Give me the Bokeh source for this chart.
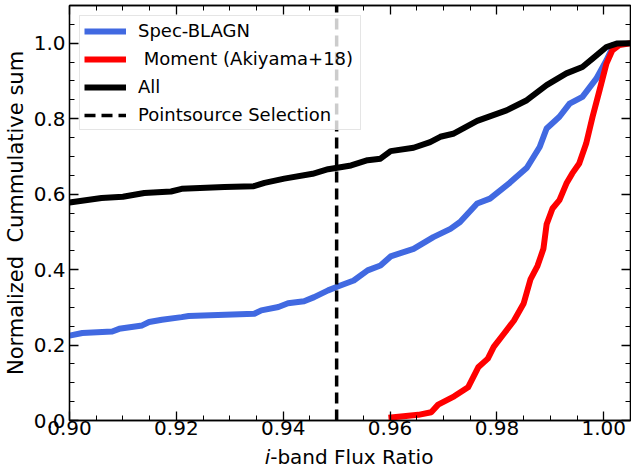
import numpy as np
from bokeh.plotting import figure
from bokeh.layouts import column
from bokeh.models import Range1d, FixedTicker, LinearAxis, Legend, LegendItem, Div
from bokeh.embed import file_html
from bokeh.resources import INLINE

# ---------------- data ----------------
blue_x = [0.900, 0.9024, 0.908, 0.9093, 0.9136, 0.9149, 0.9173, 0.921, 0.9223, 0.9346,
          0.9359, 0.9391, 0.9409, 0.9439, 0.9458, 0.9484, 0.9502, 0.9532, 0.9558, 0.9582,
          0.9601, 0.9644, 0.9681, 0.9713, 0.9731, 0.9763, 0.9787, 0.9824, 0.9856, 0.988,
          0.9893, 0.9917, 0.9936, 0.996, 0.9986, 1.0005, 1.002]
blue_y = [0.225, 0.232, 0.236, 0.243, 0.252, 0.261, 0.267, 0.274, 0.277, 0.283,
          0.292, 0.301, 0.311, 0.316, 0.327, 0.345, 0.355, 0.371, 0.398, 0.411,
          0.435, 0.455, 0.486, 0.508, 0.526, 0.575, 0.588, 0.630, 0.670, 0.725,
          0.774, 0.805, 0.840, 0.858, 0.906, 0.955, 1.000]

red_x = [0.9597, 0.9653, 0.9677, 0.969, 0.972, 0.9746, 0.9765, 0.9783, 0.9794, 0.9813,
         0.9832, 0.985, 0.9863, 0.9876, 0.9887, 0.9893, 0.9904, 0.9917, 0.993, 0.9941,
         0.9954, 0.9967, 0.9979, 0.9992, 1.0005, 1.0016, 1.0029, 1.005]
red_y = [0.007, 0.015, 0.022, 0.042, 0.064, 0.088, 0.141, 0.164, 0.195, 0.230,
         0.265, 0.310, 0.375, 0.410, 0.455, 0.520, 0.562, 0.584, 0.628, 0.655,
         0.681, 0.734, 0.805, 0.875, 0.946, 0.981, 0.995, 1.000]

all_x = [0.900, 0.906, 0.910, 0.914, 0.919, 0.921, 0.929, 0.9345, 0.9365, 0.9402,
         0.9455, 0.9484, 0.9527, 0.9558, 0.9582, 0.9601, 0.9644, 0.9675, 0.9694, 0.9718,
         0.9763, 0.9818, 0.9856, 0.9893, 0.9930, 0.9960, 0.9979, 1.0005, 1.0024, 1.005]
all_y = [0.578, 0.590, 0.593, 0.603, 0.607, 0.614, 0.619, 0.621, 0.630, 0.641,
         0.654, 0.666, 0.676, 0.690, 0.694, 0.714, 0.723, 0.738, 0.752, 0.760,
         0.794, 0.822, 0.849, 0.889, 0.920, 0.937, 0.959, 0.990, 0.999, 1.000]

selection_x = 0.95

series_labels = ["Spec-BLAGN", " Moment (Akiyama+18)", "All", "Pointsource Selection"]

x_ticks = [0.90, 0.92, 0.94, 0.96, 0.98, 1.00]
x_tick_labels = ["0.90", "0.92", "0.94", "0.96", "0.98", "1.00"]
y_ticks = [0.0, 0.2, 0.4, 0.6, 0.8, 1.0]
y_tick_labels = ["0.0", "0.2", "0.4", "0.6", "0.8", "1.0"]

x_lo, x_hi = 0.90, 1.005
y_lo, y_hi = 0.0, 1.1

y_title = "Normalized\u00a0 Cummulative sum"
x_title_italic = "i"
x_title_rest = "-band Flux Ratio"

# ---------------- figure ----------------
FONT = "DejaVu Sans"
W = 631
LEFT = 67

p = figure(width=W, height=445, output_backend="svg", toolbar_location=None,
           x_range=Range1d(x_lo, x_hi), y_range=Range1d(y_lo, y_hi),
           min_border_left=LEFT, min_border_right=1, min_border_top=5, min_border_bottom=25,
           x_axis_type=None, y_axis_type=None)
p.xgrid.visible = False
p.ygrid.visible = False
p.background_fill_color = "white"
p.border_fill_color = "white"
p.outline_line_color = "black"
p.outline_line_width = 1.3

x_minor = list(np.round(np.arange(x_lo, x_hi + 1e-9, 0.005), 4))
y_minor = list(np.round(np.arange(y_lo, y_hi + 1e-9, 0.05), 3))
xticker = FixedTicker(ticks=x_ticks, minor_ticks=x_minor)
yticker = FixedTicker(ticks=y_ticks, minor_ticks=y_minor)


def style(ax, show_labels):
    ax.axis_line_color = "black"
    ax.axis_line_width = 1.3
    ax.major_tick_in = 9
    ax.major_tick_out = 0
    ax.minor_tick_in = 5
    ax.minor_tick_out = 0
    ax.major_tick_line_color = "black"
    ax.minor_tick_line_color = "black"
    ax.major_tick_line_width = 1.3
    ax.minor_tick_line_width = 1.0
    ax.major_label_text_font = FONT
    ax.major_label_text_color = "black"
    if show_labels:
        ax.major_label_text_font_size = "20px"
    else:
        ax.major_label_text_font_size = "0px"
        ax.major_label_text_alpha = 0
        ax.major_label_standoff = 0


bottom = LinearAxis(ticker=xticker,
                    major_label_overrides={t: s for t, s in zip(x_ticks, x_tick_labels)})
style(bottom, True)
bottom.major_label_standoff = 0
p.add_layout(bottom, "below")

left = LinearAxis(ticker=yticker,
                  major_label_overrides={t: s for t, s in zip(y_ticks, y_tick_labels)})
style(left, True)
left.major_label_standoff = 4
left.axis_label = y_title
left.axis_label_text_font = FONT
left.axis_label_text_font_size = "21px"
left.axis_label_text_font_style = "normal"
left.axis_label_text_color = "black"
left.axis_label_standoff = 3
p.add_layout(left, "left")

top = LinearAxis(ticker=xticker)
style(top, False)
p.add_layout(top, "above")

right = LinearAxis(ticker=yticker)
style(right, False)
p.add_layout(right, "right")

# ---------------- curves ----------------
r_blue = p.line(blue_x, blue_y, line_color="#4169E1", line_width=6, line_join="round")
r_red = p.line(red_x, red_y, line_color="#FF0000", line_width=6, line_join="round")
r_all = p.line(all_x, all_y, line_color="black", line_width=6, line_join="round")
r_sel = p.line([selection_x, selection_x], [y_lo, y_hi], line_color="black",
               line_width=3.5, line_dash="11 6")

legend = Legend(items=[LegendItem(label=series_labels[0], renderers=[r_blue]),
                       LegendItem(label=series_labels[1], renderers=[r_red]),
                       LegendItem(label=series_labels[2], renderers=[r_all]),
                       LegendItem(label=series_labels[3], renderers=[r_sel])],
                location="top_left")
legend.label_text_font = FONT
legend.label_text_font_size = "18px"
legend.label_text_color = "black"
legend.label_height = 20
legend.label_width = 218
legend.glyph_height = 20
legend.glyph_width = 42
legend.label_standoff = 12
legend.spacing = 7
legend.padding = 4
legend.margin = 10
legend.border_line_color = "#cccccc"
legend.border_line_width = 1
legend.background_fill_color = "white"
legend.background_fill_alpha = 0.8
p.add_layout(legend)

# ---------------- x-axis title (italic "i") ----------------
xtitle = Div(text=f"<i>{x_title_italic}</i>{x_title_rest}", width=W - LEFT, height=25,
             margin=(0, 0, 0, LEFT),
             styles={"font-family": FONT, "font-size": "20px", "color": "black",
                     "text-align": "center", "line-height": "25px", "width": f"{W - LEFT}px",
                     "white-space": "nowrap", "background": "white"})

layout = column(p, xtitle, spacing=0)
open("out.html", "w").write(file_html(layout, INLINE))
